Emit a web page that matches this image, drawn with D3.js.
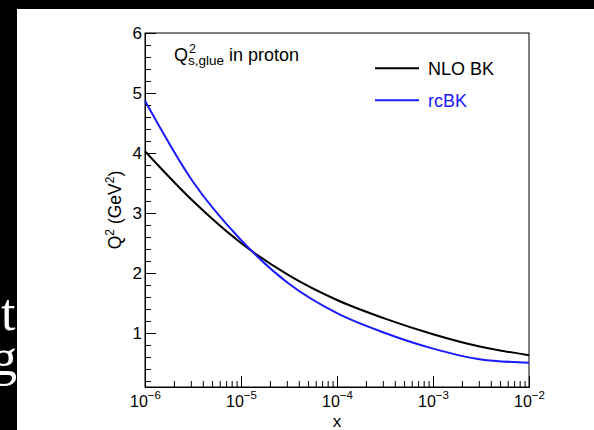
<!DOCTYPE html>
<html><head><meta charset="utf-8">
<script src="https://cdn.jsdelivr.net/npm/d3@7"></script>
<style>
html,body{margin:0;padding:0;background:#000;}
svg{display:block;}
</style></head>
<body>
<svg id="c" width="594" height="430"></svg>
<script>
// ---- data ----
const xValues = [1e-6, 3.16e-6, 1e-5, 3.16e-5, 1e-4, 3.16e-4, 1e-3, 3.16e-3, 1e-2];
const nloBK   = [4.03, 3.20, 2.50, 1.96, 1.55, 1.24, 0.98, 0.77, 0.63];
const rcBK    = [4.87, 3.52, 2.55, 1.82, 1.33, 1.00, 0.74, 0.56, 0.505];
const xDecades = [-6, -5, -4, -3, -2];
const yTicks = [1, 2, 3, 4, 5, 6];
const seriesNames = ["NLO BK", "rcBK"];
const seriesColors = ["#000000", "#1a1aff"];

const svg = d3.select("#c");
const font = "'Liberation Sans', Arial, Helvetica, sans-serif";

svg.append("rect").attr("x",0).attr("y",0).attr("width",594).attr("height",430).attr("fill","#000");
const clip = svg.append("defs").append("clipPath").attr("id","lc");
clip.append("rect").attr("x",0).attr("y",0).attr("width",17).attr("height",430);
const slide = svg.append("g").attr("clip-path","url(#lc)")
  .style("font-family","'Liberation Serif','Times New Roman',serif").style("font-size","52px").attr("fill","#fff");
slide.append("text").attr("x",1).attr("y",330).text("t");
slide.append("text").attr("x",-9).attr("y",375).text("g");

svg.append("rect").attr("x",17).attr("y",9).attr("width",577).attr("height",421).attr("fill","#fff");

const L = 145, R = 529, T = 33, B = 387;
const x = d3.scaleLog().domain([1e-6, 1e-2]).range([L, R]);
const y = d3.scaleLinear().domain([0.1, 6]).range([B, T]);

svg.append("rect").attr("x",L).attr("y",T).attr("width",R-L).attr("height",B-T)
  .attr("fill","none").attr("stroke","#000").attr("stroke-width",1);

const yAx = svg.append("g").attr("transform",`translate(${L},0)`)
  .call(d3.axisLeft(y).tickValues(yTicks).tickSize(-11).tickPadding(3).tickFormat(d3.format("d")));
const yMinor = d3.range(0.2, 6.0001, 0.2).map(v=>+v.toFixed(1)).filter(v=>Math.abs(v-Math.round(v))>1e-6);
svg.append("g").attr("transform",`translate(${L},0)`)
  .call(d3.axisLeft(y).tickValues(yMinor).tickSize(-6).tickFormat(""))
  .select(".domain").remove();
yAx.selectAll("text").style("font-size","17px").style("font-family",font).attr("fill","#000");

const xMajor = xDecades.map(e=>Math.pow(10,e));
const xAx = svg.append("g").attr("transform",`translate(0,${B})`)
  .call(d3.axisBottom(x).tickValues(xMajor).tickSize(-11).tickFormat(""));
const xMinor = [];
xDecades.slice(0,-1).forEach(e=>{ for(let k=2;k<=9;k++) xMinor.push(k*Math.pow(10,e)); });
svg.append("g").attr("transform",`translate(0,${B})`)
  .call(d3.axisBottom(x).tickValues(xMinor).tickSize(-6).tickFormat(""))
  .select(".domain").remove();
svg.selectAll(".domain").attr("stroke","#000");
svg.selectAll(".tick line").attr("stroke","#000");

xAx.selectAll(".tick").each(function(d){
  const e = Math.round(Math.log10(d));
  const t = d3.select(this).append("text").attr("y",20).attr("text-anchor","middle")
    .style("font-family",font).attr("fill","#000");
  t.append("tspan").style("font-size","16px").text("10");
  t.append("tspan").style("font-size","11.5px").attr("dy",-8).text(String(e).replace("-","−"));
});

svg.append("text").attr("x",(L+R)/2).attr("y",427).attr("text-anchor","middle")
  .style("font-family",font).style("font-size","17px").text("x");
const yt = svg.append("text").attr("transform","translate(121,210) rotate(-90)")
  .attr("text-anchor","middle").style("font-family",font).style("font-size","17.5px");
yt.append("tspan").text("Q");
yt.append("tspan").style("font-size","12px").attr("dy",-7).text("2");
yt.append("tspan").attr("dy",7).text(" (GeV");
yt.append("tspan").style("font-size","12px").attr("dy",-7).text("2");
yt.append("tspan").attr("dy",7).text(")");

const line = d3.line().x(d=>x(d[0])).y(d=>y(d[1])).curve(d3.curveMonotoneX);
[nloBK, rcBK].forEach((vals,i)=>{
  svg.append("path").datum(xValues.map((xv,j)=>[xv, vals[j]]))
    .attr("d",line).attr("fill","none").attr("stroke",seriesColors[i]).attr("stroke-width",2);
});

const lab = svg.append("g").style("font-family",font).attr("fill","#000");
const lt = lab.append("text").attr("x",174).attr("y",61).style("font-size","18px");
lt.append("tspan").text("Q");
lt.append("tspan").attr("x",189).attr("y",53).style("font-size","12.5px").text("2");
lt.append("tspan").attr("x",188).attr("y",65).style("font-size","13.5px").text("s,glue");
lt.append("tspan").attr("x",229).attr("y",61).text("in proton");

seriesNames.forEach((n,i)=>{
  const yy = 68.3 + i*32;
  svg.append("line").attr("x1",375).attr("x2",419).attr("y1",yy).attr("y2",yy)
    .attr("stroke",seriesColors[i]).attr("stroke-width",2);
  svg.append("text").attr("x",428).attr("y",yy+6.3).style("font-family",font).style("font-size","18px")
    .attr("fill",seriesColors[i]).text(n);
});
</script>
</body></html>
